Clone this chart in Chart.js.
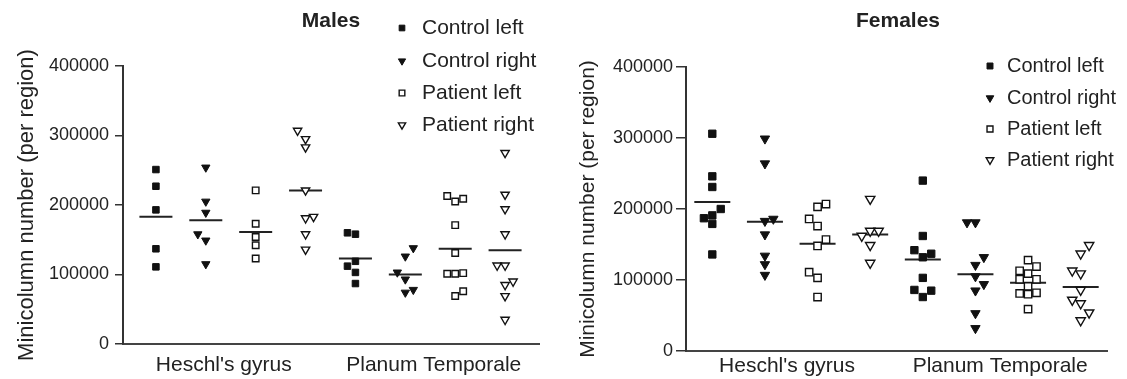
<!DOCTYPE html>
<html>
<head>
<meta charset="utf-8">
<script src="https://cdn.jsdelivr.net/npm/chart.js@4.4.1/dist/chart.umd.min.js"></script>
<style>
  html, body { margin: 0; padding: 0; background: #fff; }
  .panel { position: absolute; top: 0; height: 379px; }
</style>
</head>
<body>
<div class="panel" style="left:0;width:560px"><canvas id="males" width="560" height="379"></canvas></div>
<div class="panel" style="left:560px;width:567px"><canvas id="females" width="567" height="379"></canvas></div>
<script>
var regions = ["Heschl's gyrus", "Planum Temporale"];
var seriesNames = ['Control left', 'Control right', 'Patient left', 'Patient right'];

// values in thousands, 2nd number = which side of the column the dot sits (-1 / 0 / 1)
// each series: [Heschl's gyrus points, Planum Temporale points]
var maleControlLeft = [
  [[251,0],[227,0],[193,0],[137,0],[111,0]],
  [[160,-1],[158,0],[119,0],[112,-1],[103,0],[87,0]]
];
var maleControlRight = [
  [[254,0],[205,0],[189,0],[158,-1],[149,0],[115,0]],
  [[138,1],[126,0],[103,-1],[93,0],[74,0],[78,1]]
];
var malePatientLeft = [
  [[221,0],[173,0],[154,0],[142,0],[123,0]],
  [[213,-1],[205,0],[209,1],[171,0],[131,0],[101,-1],[101,0],[102,1],[69,0],[76,1]]
];
var malePatientRight = [
  [[307,-1],[295,0],[283,0],[221,0],[181,0],[183,1],[158,0],[136,0]],
  [[275,0],[215,0],[194,0],[158,0],[113,-1],[113,0],[85,0],[90,1],[69,0],[35,0]]
];
var maleMeans = [183, 178, 161, 221, 123, 100, 137, 135];

var femaleControlLeft = [
  [[306,0],[246,0],[231,0],[200,1],[187,-1],[191,0],[179,0],[136,0]],
  [[240,0],[162,0],[142,-1],[132,0],[137,1],[103,0],[86,-1],[85,1],[76,0]]
];
var femaleControlRight = [
  [[299,0],[264,0],[183,0],[186,1],[164,0],[134,0],[122,0],[107,0]],
  [[181,-1],[181,0],[132,1],[121,0],[105,0],[94,1],[85,0],[53,0],[32,0]]
];
var femalePatientLeft = [
  [[203,0],[207,1],[186,-1],[176,0],[157,1],[148,0],[111,-1],[103,0],[76,0]],
  [[128,0],[119,1],[113,-1],[109,0],[101,-1],[101,1],[91,0],[81,-1],[80,0],[82,1],[59,0]]
];
var femalePatientRight = [
  [[214,0],[162,-1],[169,0],[169,1],[149,0],[124,0]],
  [[149,1],[137,0],[113,-1],[109,0],[86,0],[72,-1],[67,0],[54,1],[43,0]]
];
var femaleMeans = [210, 182, 151, 164, 129, 108, 96, 90];

Chart.defaults.font.family = '"Liberation Sans", Arial, sans-serif';
Chart.defaults.color = '#222';

function toPoints(series, s) {
  var pts = [];
  series.forEach(function (list, r) {
    list.forEach(function (p) {
      pts.push({ x: r * 4 + s + p[1] * 0.16, y: p[0] * 1000 });
    });
  });
  return pts;
}

function markerStyle(s, size) {
  var tri = s % 2 === 1;
  var filled = s < 2;
  return {
    pointStyle: tri ? 'triangle' : 'rect',
    rotation: tri ? 180 : 0,
    radius: tri ? size + 0.2 : size,
    fill: filled ? '#111' : '#fff',
    borderWidth: filled ? 1 : 1.4
  };
}

// titles and the legend sit over the plot, so they are drawn by hand
var overlay = {
  id: 'overlay',
  afterDraw: function (chart, args, o) {
    var ctx = chart.ctx;
    ctx.save();
    ctx.fillStyle = '#222';
    ctx.textBaseline = 'middle';
    ctx.textAlign = 'center';
    ctx.font = 'bold ' + o.titleSize + 'px "Liberation Sans", Arial, sans-serif';
    ctx.fillText(o.title, o.titleX, o.titleY);
    ctx.textAlign = 'left';
    ctx.font = o.legendSize + 'px "Liberation Sans", Arial, sans-serif';
    seriesNames.forEach(function (name, s) {
      var st = markerStyle(s, o.markerSize);
      ctx.fillStyle = st.fill;
      ctx.strokeStyle = '#111';
      ctx.lineWidth = st.borderWidth;
      Chart.helpers.drawPoint(ctx, {
        pointStyle: st.pointStyle, rotation: st.rotation,
        radius: st.radius, borderWidth: st.borderWidth
      }, o.legendX, o.legendY[s]);
      ctx.fillStyle = '#222';
      ctx.fillText(name, o.legendTextX, o.legendY[s]);
    });
    ctx.restore();
  }
};

function makeChart(id, series, means, cfg) {
  var datasets = series.map(function (ser, s) {
    var st = markerStyle(s, cfg.markerSize);
    return {
      label: seriesNames[s],
      data: toPoints(ser, s),
      pointStyle: st.pointStyle,
      rotation: st.rotation,
      pointRadius: st.radius,
      pointHoverRadius: st.radius,
      pointBackgroundColor: st.fill,
      pointBorderColor: '#111',
      pointBorderWidth: st.borderWidth
    };
  });
  datasets.push({
    label: 'mean',
    data: means.map(function (m, i) { return { x: i, y: m * 1000 }; }),
    pointStyle: 'line',
    pointRadius: cfg.meanHalf,
    pointHoverRadius: cfg.meanHalf,
    pointBorderColor: '#222',
    pointBorderWidth: 2
  });

  return new Chart(document.getElementById(id), {
    type: 'scatter',
    data: { datasets: datasets },
    plugins: [overlay],
    options: {
      responsive: false,
      animation: false,
      events: [],
      layout: { padding: { top: cfg.top, right: cfg.right, left: 0, bottom: 0 } },
      plugins: {
        legend: { display: false },
        tooltip: { enabled: false },
        overlay: cfg.overlay
      },
      scales: {
        x: {
          type: 'linear',
          min: cfg.xMin,
          max: cfg.xMax,
          afterBuildTicks: function (axis) {
            axis.ticks = cfg.labelAt.map(function (v) { return { value: v }; });
          },
          afterFit: function (axis) { axis.height = cfg.xHeight; },
          grid: { display: false, drawTicks: false, tickLength: 0 },
          border: { display: true, color: '#444', width: 2 },
          ticks: {
            autoSkip: false, maxRotation: 0, padding: cfg.xPad,
            font: { size: 21 }, color: '#222',
            callback: function (v, i) { return regions[i]; }
          }
        },
        y: {
          min: 0,
          max: 400000,
          afterFit: function (axis) { axis.width = cfg.yWidth; },
          grid: { drawOnChartArea: false, drawTicks: true, tickLength: cfg.tickLen, color: '#333', lineWidth: 1.5 },
          border: { display: true, color: '#333', width: 2 },
          ticks: {
            stepSize: 100000, padding: cfg.yPad,
            font: { size: 18 }, color: '#222',
            callback: function (v) { return String(v); }
          },
          title: {
            display: true, text: 'Minicolumn number (per region)',
            font: { size: cfg.titleSize }, color: '#222',
            padding: { top: cfg.titlePad, bottom: 0 }
          }
        }
      }
    }
  });
}

makeChart('males', [maleControlLeft, maleControlRight, malePatientLeft, malePatientRight], maleMeans, {
  top: 66, right: 21, yWidth: 123, xHeight: 35, xMin: -0.66, xMax: 7.68,
  labelAt: [1.36, 5.57], xPad: 9, yPad: 6, tickLen: 8, titlePad: 14, titleSize: 22,
  markerSize: 4.6, meanHalf: 16.5,
  overlay: {
    title: 'Males', titleX: 331, titleY: 21, titleSize: 21,
    legendX: 402, legendTextX: 422, legendY: [28, 61, 93, 125],
    legendSize: 21, markerSize: 4
  }
});

makeChart('females', [femaleControlLeft, femaleControlRight, femalePatientLeft, femalePatientRight], femaleMeans, {
  top: 67, right: 17, yWidth: 126, xHeight: 28, xMin: -0.5, xMax: 7.5,
  labelAt: [1.42, 5.47], xPad: 3, yPad: 3, tickLen: 10, titlePad: 16, titleSize: 21,
  markerSize: 5.2, meanHalf: 18,
  overlay: {
    title: 'Females', titleX: 338, titleY: 21, titleSize: 21,
    legendX: 430, legendTextX: 447, legendY: [66, 98, 129, 160],
    legendSize: 20, markerSize: 4.2
  }
});
</script>
</body>
</html>
